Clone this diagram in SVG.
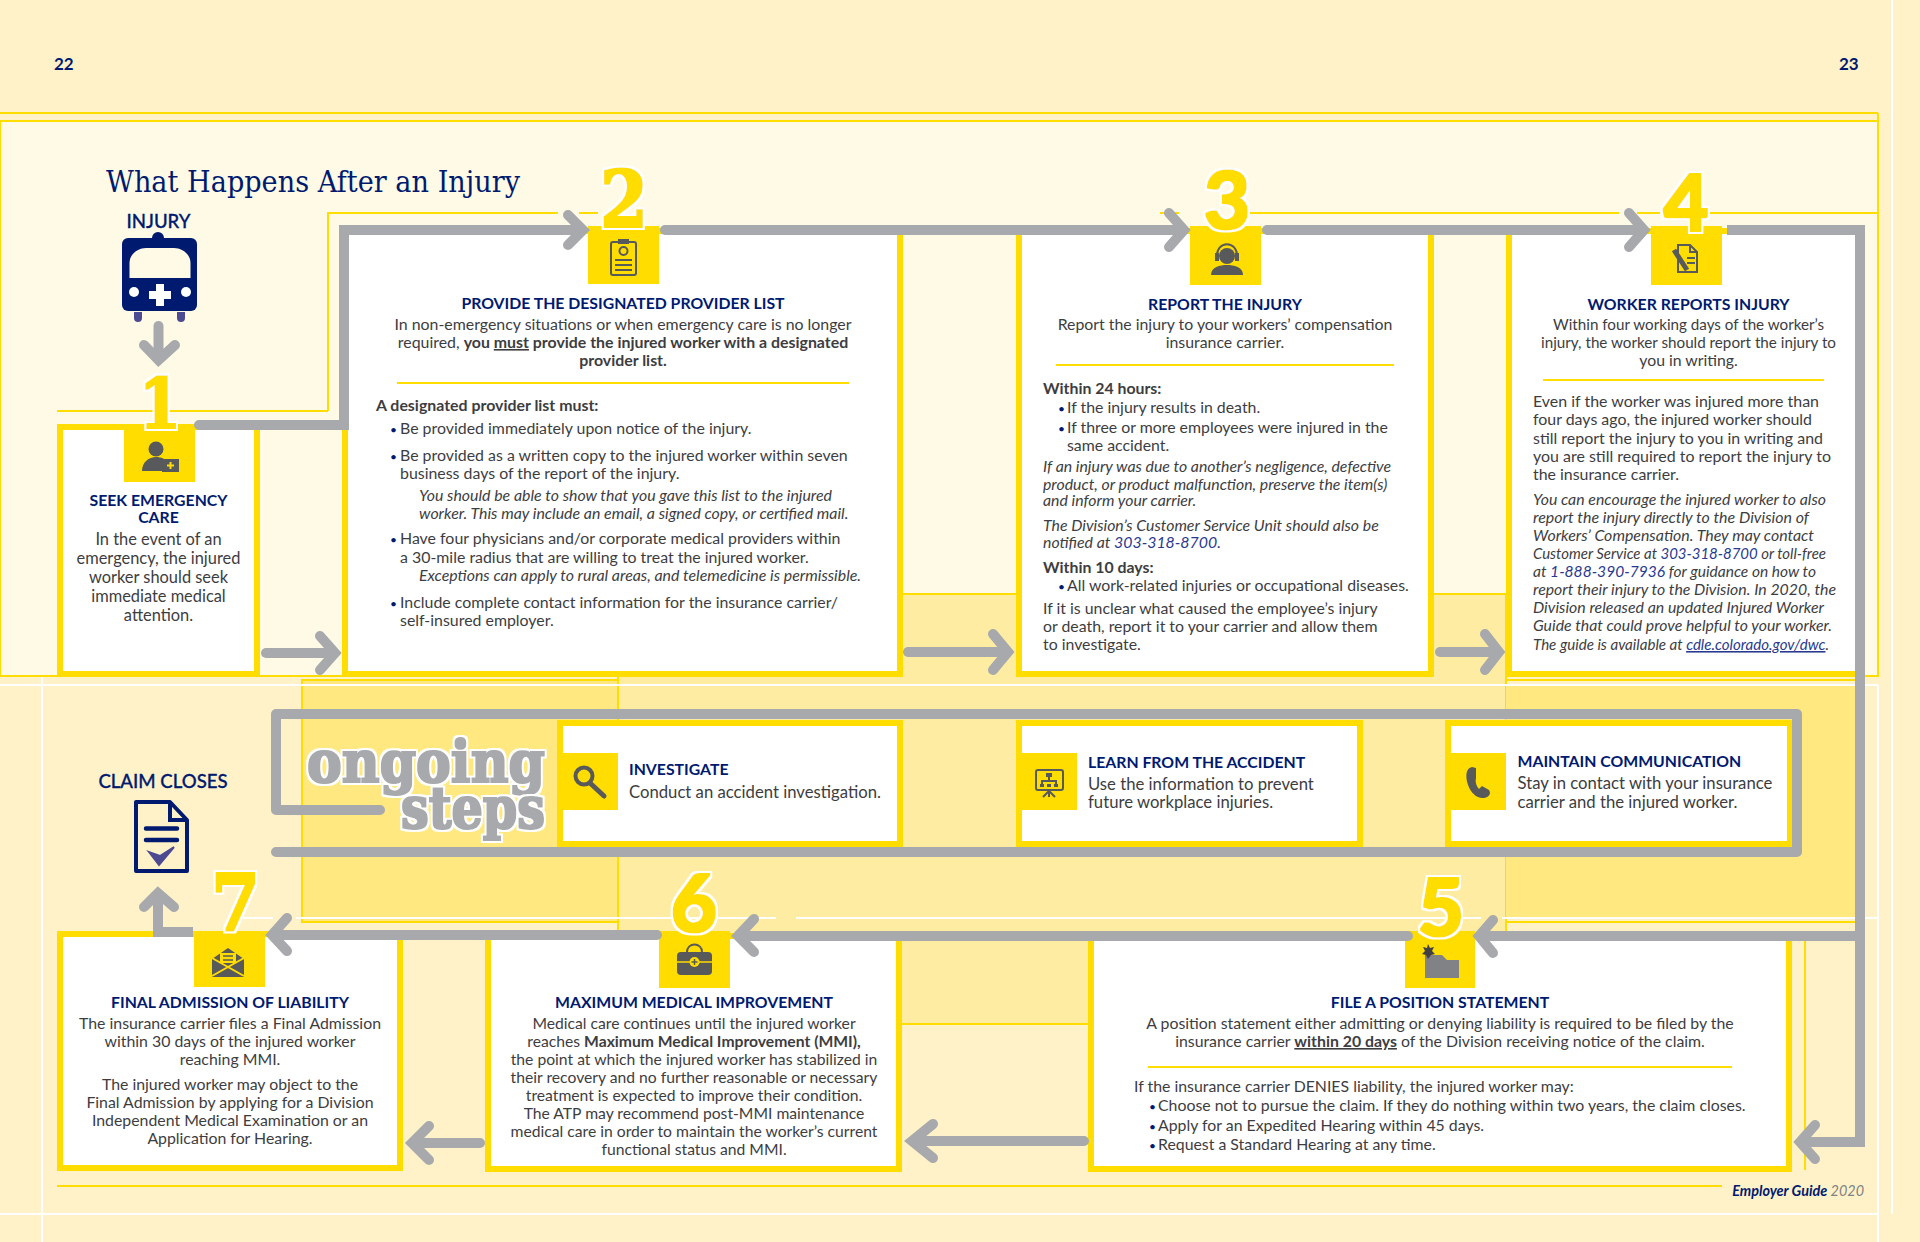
<svg xmlns="http://www.w3.org/2000/svg" width="1920" height="1242" viewBox="0 0 1920 1242" font-size="15.950">
<defs>
<filter id="fat" x="-20%" y="-20%" width="140%" height="140%"><feMorphology in="SourceGraphic" operator="dilate" radius="0.9" result="a"/><feMorphology in="SourceGraphic" operator="dilate" radius="2.8" result="b"/><feFlood flood-color="#fff"/><feComposite in2="b" operator="in" result="w"/><feMerge><feMergeNode in="w"/><feMergeNode in="a"/></feMerge></filter>
<style>
text{font-family:Lato,"Noto Sans",sans-serif;fill:#3d3d3f}
.c{text-anchor:middle}
.t{font-weight:700;fill:#001a70;font-size:15.8px}
.h{font-weight:500;fill:#001a70;font-size:18.6px;stroke:#001a70;stroke-width:.3}
.bold{font-weight:700}
.i{font-style:italic}
.l{fill:#2a3990}
.u{text-decoration:underline}
.bu{fill:#001a70;font-size:12px}
.box{fill:#fff;stroke:#ffdd00;stroke-width:6}
.sq{fill:#ffdd00}
.num{font-family:"DejaVu Serif",serif;font-weight:700;font-size:78px;fill:#ffdd00;filter:url(#fat)}
.num2{font-family:Lato,sans-serif;font-weight:900;font-size:80px;fill:#ffdd00;filter:url(#fat)}
.on{font-family:"DejaVu Serif",serif;font-weight:700;font-size:57px;fill:#a7a9ac;filter:url(#fat);text-anchor:end}
.ln{stroke:#ffdd00;stroke-width:2;fill:none}
.pn{stroke:#ffdd00;stroke-width:2}
.wl{stroke:#fff;stroke-width:2;fill:none}
.rule{stroke:#ffdd00;stroke-width:2}
.gr{fill:none;stroke:#a7a9ac;stroke-width:10;stroke-linecap:round;stroke-linejoin:miter}
.hd{fill:none;stroke:#a7a9ac;stroke-width:10;stroke-linecap:round;stroke-linejoin:miter}
.ic{fill:#58595b}
.is{fill:none;stroke:#58595b;stroke-width:2}
</style></defs>

<g id="background">
<rect width="1920" height="1242" fill="#fff2c8"/>
<rect x="0" y="121" width="1878" height="555" fill="#fffae6" class="pn"/>
<path class="ln" d="M0 113H1878M1878 113V121"/>
<rect x="618" y="594" width="888" height="430" fill="#feeca3" class="pn"/>
<rect x="302" y="680" width="316" height="242" fill="#ffe87f" class="pn"/>
<rect x="1506" y="685" width="350" height="233" fill="#ffe87f"/>
<path class="ln" d="M1506 680H1856M1506 922H1856M1805 941V1170"/>
<path class="ln" d="M328 411V213H558M579 213H598M1160 213H1179M1250 213H1619M1637 213H1660M1710 213H1878M57 411H328"/>
<path class="ln" d="M57 1186H1722"/>
<path class="wl" d="M0 685H1878M0 1214H1878M42 677V1242M1878 685V1242M1892 0V1214M243 918H273M296 918H776M796 918H1481M1502 918H1878"/>
</g>

<g id="title">
<text x="106" y="192" style="font-family:'DejaVu Serif',serif;font-size:29px;fill:#001a70" textLength="414" lengthAdjust="spacingAndGlyphs">What Happens After an Injury</text>
<text x="54" y="70" class="bold" style="font-size:17px;fill:#001a70">22</text>
<text x="1839" y="70" class="bold" style="font-size:17px;fill:#001a70">23</text>
<text x="1864" y="1196" style="text-anchor:end;font-size:14.400px;font-style:italic;fill:#808285"><tspan style="fill:#001a70;font-weight:700">Employer Guide</tspan> 2020</text>
</g>

<g id="injury">
<text x="158.500" y="228" class="h c">INJURY</text>
<rect x="122" y="238" width="75" height="73" rx="6" fill="#001a70"/>
<path d="M122 270C122 248 135 241 148 241H172C185 241 197 248 197 270V290H122Z" fill="#001a70"/>
<circle cx="158" cy="238" r="6" fill="#001a70"/>
<path d="M129.500 278V263C129.500 254 138 248 146 248H174C182 248 190.500 254 190.500 263V278Z" fill="#fffae6"/>
<path d="M156 284H164V291H171V299H164V306H156V299H149V291H156Z" fill="#fff"/>
<circle cx="134" cy="292" r="5" fill="#fff"/><circle cx="186" cy="292" r="5" fill="#fff"/>
<path d="M134 312H142V318Q142 322 138 322T134 318ZM177 312H185V318Q185 322 181 322T177 318Z" fill="#4c4a91"/>
</g>

<g id="claim-closes">
<text x="163" y="788" class="h c">CLAIM CLOSES</text>
<path d="M136 802H170L187 820V871H136Z" fill="#fff2c8" stroke="#001a70" stroke-width="4" stroke-linejoin="round"/>
<path d="M170 802V820H187" fill="none" stroke="#001a70" stroke-width="4"/>
<path d="M146 828.500H177M146 840H177" stroke="#001a70" stroke-width="4.500" stroke-linecap="round"/>
<path d="M149 852L159 865L174 847L160 856Z" fill="#4c4a91" stroke="#4c4a91" stroke-width="2"/>
</g>

<g id="ongoing-label">
<text x="545" y="782" class="on" textLength="238" lengthAdjust="spacingAndGlyphs">ongoing</text>
<text x="545" y="828" class="on" textLength="144" lengthAdjust="spacingAndGlyphs">steps</text>
</g>

<g id="step1" font-size="16.400">
<rect x="60" y="427" width="197" height="247" class="box"/>
<rect x="124" y="424" width="71" height="58" class="sq"/>
<circle cx="156" cy="449" r="7.500" class="ic"/><path class="ic" d="M142 471C142 462 149 457 156 457C161 457 166 459 168 463V471Z"/>
<rect x="162" y="459" width="17" height="13" class="ic"/><path d="M170.500 462V469M167 465.500H174" stroke="#ffdd00" stroke-width="2"/>
<text x="158.500" y="506" class="t c">SEEK EMERGENCY</text>
<text x="158.500" y="523" class="t c">CARE</text>
<text x="158.500" y="545" class="c">In the event of an</text>
<text x="158.500" y="564" class="c">emergency, the injured</text>
<text x="158.500" y="583" class="c">worker should seek</text>
<text x="158.500" y="602" class="c">immediate medical</text>
<text x="158.500" y="621" class="c">attention.</text>
</g>

<g id="step2" font-size="15.900">
<rect x="345" y="231" width="555" height="443" class="box"/>
<rect x="588" y="226" width="71" height="58" class="sq"/>
<rect x="611" y="242" width="25" height="33" rx="2" class="is"/><rect x="618" y="239" width="11" height="5" class="ic"/><circle cx="623.500" cy="251" r="4" class="is"/><path class="is" d="M615 260H632M615 265H632M615 270H632"/>
<text x="623" y="309" class="t c">PROVIDE THE DESIGNATED PROVIDER LIST</text>
<text x="623" y="330" class="c">In non-emergency situations or when emergency care is no longer</text>
<text x="623" y="348" class="c">required, <tspan class="bold">you <tspan class="u">must</tspan> provide the injured worker with a designated</tspan></text>
<text x="623" y="366" class="c bold">provider list.</text>
<path class="rule" d="M397 383H849"/>
<text x="376" y="411" class="bold">A designated provider list must:</text>
<text x="390" y="434" class="bu">•</text><text x="400" y="434">Be provided immediately upon notice of the injury.</text>
<text x="390" y="461" class="bu">•</text><text x="400" y="461">Be provided as a written copy to the injured worker within seven</text>
<text x="400" y="479">business days of the report of the injury.</text>
<text x="419" y="501" class="i">You should be able to show that you gave this list to the injured</text>
<text x="419" y="519" class="i">worker. This may include an email, a signed copy, or certified mail.</text>
<text x="390" y="544" class="bu">•</text><text x="400" y="544">Have four physicians and/or corporate medical providers within</text>
<text x="400" y="563">a 30-mile radius that are willing to treat the injured worker.</text>
<text x="419" y="581" class="i">Exceptions can apply to rural areas, and telemedicine is permissible.</text>
<text x="390" y="608" class="bu">•</text><text x="400" y="608">Include complete contact information for the insurance carrier/</text>
<text x="400" y="626">self-insured employer.</text>
</g>

<g id="step3" font-size="15.850">
<rect x="1019" y="231" width="412" height="443" class="box"/>
<rect x="1190" y="226" width="71" height="59" class="sq"/>
<circle cx="1227" cy="256" r="8" class="ic"/><path class="is" d="M1217 257C1216 240 1238 240 1237 257"/><path class="ic" d="M1211 275C1211 267 1220 265 1227 265C1234 265 1243 267 1243 275Z"/><rect x="1215" y="253" width="4" height="8" class="ic"/><rect x="1235" y="253" width="4" height="8" class="ic"/>
<text x="1225" y="310" class="t c">REPORT THE INJURY</text>
<text x="1225" y="330" class="c">Report the injury to your workers’ compensation</text>
<text x="1225" y="348" class="c">insurance carrier.</text>
<path class="rule" d="M1056 365H1394"/>
<text x="1043" y="394" class="bold">Within 24 hours:</text>
<text x="1058" y="413" class="bu">•</text><text x="1067" y="413">If the injury results in death.</text>
<text x="1058" y="433" class="bu">•</text><text x="1067" y="433">If three or more employees were injured in the</text>
<text x="1067" y="451">same accident.</text>
<text x="1043" y="472" class="i">If an injury was due to another’s negligence, defective</text>
<text x="1043" y="490" class="i">product, or product malfunction, preserve the item(s)</text>
<text x="1043" y="506" class="i">and inform your carrier.</text>
<text x="1043" y="531" class="i">The Division’s Customer Service Unit should also be</text>
<text x="1043" y="548" class="i">notified at <tspan class="l">303-318-8700.</tspan></text>
<text x="1043" y="573" class="bold">Within 10 days:</text>
<text x="1058" y="591" class="bu">•</text><text x="1067" y="591">All work-related injuries or occupational diseases.</text>
<text x="1043" y="614">If it is unclear what caused the employee’s injury</text>
<text x="1043" y="632">or death, report it to your carrier and allow them</text>
<text x="1043" y="650">to investigate.</text>
</g>

<g id="step4" font-size="15.800">
<rect x="1509" y="231" width="350" height="443" class="box"/>
<rect x="1651" y="226" width="71" height="59" class="sq"/>
<path class="is" d="M1678 245H1690L1697 252V272H1678Z"/><path class="is" d="M1690 245V252H1697M1687 258H1695M1687 263H1695"/><path d="M1674 250L1687 270" stroke="#58595b" stroke-width="5"/>
<text x="1688.500" y="310" class="t c">WORKER REPORTS INJURY</text>
<text x="1553" y="330" textLength="271" lengthAdjust="spacingAndGlyphs">Within four working days of the worker’s</text>
<text x="1541" y="348" textLength="295" lengthAdjust="spacingAndGlyphs">injury, the worker should report the injury to</text>
<text x="1688.500" y="366" class="c">you in writing.</text>
<path class="rule" d="M1543 380H1824"/>
<text x="1533" y="407" textLength="286" lengthAdjust="spacingAndGlyphs">Even if the worker was injured more than</text>
<text x="1533" y="425" textLength="279" lengthAdjust="spacingAndGlyphs">four days ago, the injured worker should</text>
<text x="1533" y="444" textLength="290" lengthAdjust="spacingAndGlyphs">still report the injury to you in writing and</text>
<text x="1533" y="462" textLength="298" lengthAdjust="spacingAndGlyphs">you are still required to report the injury to</text>
<text x="1533" y="480" textLength="146" lengthAdjust="spacingAndGlyphs">the insurance carrier.</text>
<text x="1533" y="505" class="i" textLength="293" lengthAdjust="spacingAndGlyphs">You can encourage the injured worker to also</text>
<text x="1533" y="523" class="i" textLength="276" lengthAdjust="spacingAndGlyphs">report the injury directly to the Division of</text>
<text x="1533" y="541" class="i" textLength="281" lengthAdjust="spacingAndGlyphs">Workers’ Compensation. They may contact</text>
<text x="1533" y="559" class="i" textLength="293" lengthAdjust="spacingAndGlyphs">Customer Service at <tspan class="l">303-318-8700</tspan> or toll-free</text>
<text x="1533" y="577" class="i" textLength="283" lengthAdjust="spacingAndGlyphs">at <tspan class="l">1-888-390-7936</tspan> for guidance on how to</text>
<text x="1533" y="595" class="i" textLength="303" lengthAdjust="spacingAndGlyphs">report their injury to the Division. In 2020, the</text>
<text x="1533" y="613" class="i" textLength="291" lengthAdjust="spacingAndGlyphs">Division released an updated Injured Worker</text>
<text x="1533" y="631" class="i" textLength="299" lengthAdjust="spacingAndGlyphs">Guide that could prove helpful to your worker.</text>
<text x="1533" y="650" class="i" textLength="296" lengthAdjust="spacingAndGlyphs">The guide is available at <tspan class="l u">cdle.colorado.gov/dwc</tspan>.</text>
</g>

<g id="investigate" font-size="16.700">
<rect x="560" y="723" width="340" height="121" class="box"/>
<rect x="563" y="753" width="55" height="57" class="sq"/>
<circle cx="584" cy="776" r="8.500" fill="none" stroke="#58595b" stroke-width="4"/><path d="M590 783L604 796" stroke="#58595b" stroke-width="5" stroke-linecap="round"/>
<text x="629" y="775" class="t">INVESTIGATE</text>
<text x="629" y="798">Conduct an accident investigation.</text>
</g>

<g id="learn" font-size="16.700">
<rect x="1019" y="723" width="341" height="121" class="box"/>
<rect x="1022" y="753" width="55" height="57" class="sq"/>
<rect x="1036" y="770" width="27" height="20" rx="2" class="is"/><path class="is" d="M1049 776V781M1042 786V781H1056V786M1049 790V797M1043 797L1049 791L1055 797"/><rect x="1046" y="773" width="6" height="4" class="ic"/><rect x="1040" y="784" width="4" height="3" class="ic"/><rect x="1047" y="784" width="4" height="3" class="ic"/><rect x="1054" y="784" width="4" height="3" class="ic"/>
<text x="1088" y="768" class="t">LEARN FROM THE ACCIDENT</text>
<text x="1088" y="790">Use the information to prevent</text>
<text x="1088" y="808">future workplace injuries.</text>
</g>

<g id="maintain" font-size="16.700">
<rect x="1448" y="723" width="342" height="121" class="box"/>
<rect x="1451" y="753" width="55" height="57" class="sq"/>
<path d="M1472 767C1466 768 1465 776 1468 785C1471 793 1477 799 1484 798C1490 797 1491 793 1489 790L1482 786L1479 789C1476 786 1475 781 1476 778L1476 768Z" class="ic"/>
<text x="1517.500" y="767" class="t">MAINTAIN COMMUNICATION</text>
<text x="1517.500" y="789">Stay in contact with your insurance</text>
<text x="1517.500" y="808">carrier and the injured worker.</text>
</g>

<g id="step5" font-size="15.850">
<rect x="1091" y="936" width="698" height="233" class="box"/>
<rect x="1405" y="931" width="70" height="57" class="sq"/>
<path fill="#808285" d="M1425 955H1442L1447 960H1459V978H1425Z"/><path fill="#414042" d="M1428 944L1430 948L1434 947L1432 951L1435 954L1431 955L1428 959L1426 955L1422 954L1425 951L1423 947L1427 948Z"/>
<text x="1440" y="1008" class="t c">FILE A POSITION STATEMENT</text>
<text x="1440" y="1029" class="c">A position statement either admitting or denying liability is required to be filed by the</text>
<text x="1440" y="1047" class="c">insurance carrier <tspan class="bold u">within 20 days</tspan> of the Division receiving notice of the claim.</text>
<path class="rule" d="M1148 1067H1732"/>
<text x="1134" y="1092">If the insurance carrier DENIES liability, the injured worker may:</text>
<text x="1149" y="1111" class="bu">•</text><text x="1158" y="1111">Choose not to pursue the claim. If they do nothing within two years, the claim closes.</text>
<text x="1149" y="1131" class="bu">•</text><text x="1158" y="1131">Apply for an Expedited Hearing within 45 days.</text>
<text x="1149" y="1150" class="bu">•</text><text x="1158" y="1150">Request a Standard Hearing at any time.</text>
</g>

<g id="step6" font-size="15.700">
<rect x="488" y="936" width="411" height="233" class="box"/>
<rect x="659" y="931" width="71" height="57" class="sq"/>
<rect x="677" y="952" width="35" height="23" rx="4" class="ic"/><path class="is" d="M687 952C687 942 702 942 702 952"/><path d="M677 962H712" stroke="#ffdd00" stroke-width="1.500"/><circle cx="694.500" cy="962" r="5" fill="#ffdd00"/><path d="M694.500 959V965M691.500 962H697.500" stroke="#58595b" stroke-width="1.500"/>
<text x="694" y="1008" class="t c">MAXIMUM MEDICAL IMPROVEMENT</text>
<text x="694" y="1029" class="c">Medical care continues until the injured worker</text>
<text x="694" y="1047" class="c">reaches <tspan class="bold">Maximum Medical Improvement (MMI),</tspan></text>
<text x="694" y="1065" class="c">the point at which the injured worker has stabilized in</text>
<text x="694" y="1083" class="c">their recovery and no further reasonable or necessary</text>
<text x="694" y="1101" class="c">treatment is expected to improve their condition.</text>
<text x="694" y="1119" class="c">The ATP may recommend post-MMI maintenance</text>
<text x="694" y="1137" class="c">medical care in order to maintain the worker’s current</text>
<text x="694" y="1155" class="c">functional status and MMI.</text>
</g>

<g id="step7" font-size="15.850">
<rect x="60" y="934" width="340" height="234" class="box"/>
<rect x="194" y="931" width="71" height="56" class="sq"/>
<path class="ic" d="M212 959L228 948L244 959V977H212Z"/><rect x="220" y="953" width="16" height="10" fill="#ffdd00"/><path d="M212 958L244 976M244 958L212 976" stroke="#ffdd00" stroke-width="2"/><path d="M223 956H233M223 960H233" stroke="#58595b" stroke-width="1.500"/>
<text x="230" y="1008" class="t c">FINAL ADMISSION OF LIABILITY</text>
<text x="230" y="1029" class="c">The insurance carrier files a Final Admission</text>
<text x="230" y="1047" class="c">within 30 days of the injured worker</text>
<text x="230" y="1065" class="c">reaching MMI.</text>
<text x="230" y="1090" class="c">The injured worker may object to the</text>
<text x="230" y="1108" class="c">Final Admission by applying for a Division</text>
<text x="230" y="1126" class="c">Independent Medical Examination or an</text>
<text x="230" y="1144" class="c">Application for Hearing.</text>
</g>

<g id="connectors">
<path class="gr" d="M199 425H344V230H580"/><path class="hd" d="M568 215L583 230L568 245"/>
<path class="gr" d="M665 230H1182"/><path class="hd" d="M1169 213L1184 230L1169 247"/>
<path class="gr" d="M1267 230H1642"/><path class="hd" d="M1629 213L1644 230L1629 247"/>
<path class="gr" style="stroke-linecap:butt" d="M1727 230H1860V1142H1802"/><path class="hd" d="M1815 1125L1800 1142L1815 1159"/>
<path class="gr" style="stroke-linecap:butt" d="M1860 936H1482"/><path class="hd" d="M1493 920L1479 936L1493 953"/>
<path class="gr" d="M1408 936H740"/><path class="hd" d="M754 919L738 936L754 952"/>
<path class="gr" d="M657 935H274"/><path class="hd" d="M287 918L272 935L287 951"/>
<path class="gr" style="stroke-linecap:butt" d="M193 932H158V896"/><path class="hd" d="M144 907L158 893L174 907"/>
<path class="gr" d="M158.500 326V358"/><path class="hd" d="M144 345L158.500 360L175 345"/>
<path class="gr" d="M266 653H332"/><path class="hd" d="M320 636L335 653L320 670"/>
<path class="gr" d="M908 652H1006"/><path class="hd" d="M993 634L1008 652L993 670"/>
<path class="gr" d="M1440 652H1496"/><path class="hd" d="M1485 634L1499 652L1485 670"/>
<path class="gr" d="M1084 1141H915"/><path class="hd" d="M933 1124L912 1141L933 1158"/>
<path class="gr" d="M480 1143H416"/><path class="hd" d="M429 1126L412 1143L429 1160"/>
<path class="gr" style="stroke-linecap:round;stroke-linejoin:round" d="M380 810H276V714H1797V852H276"/>
</g>

<g id="numbers">
<text x="139" y="428" class="num" textLength="42" lengthAdjust="spacingAndGlyphs" style="font-size:70px">1</text>
<text x="600" y="227" class="num" textLength="48" lengthAdjust="spacingAndGlyphs">2</text>
<text x="1227" y="229" class="num2 c">3</text>
<text x="1686" y="231" class="num2 c" style="font-size:78px">4</text>
<text x="1441" y="936" class="num2 c">5</text>
<text x="694" y="932" class="num2 c">6</text>
<text x="211" y="931" class="num" textLength="49" lengthAdjust="spacingAndGlyphs">7</text>
</g>
</svg>
